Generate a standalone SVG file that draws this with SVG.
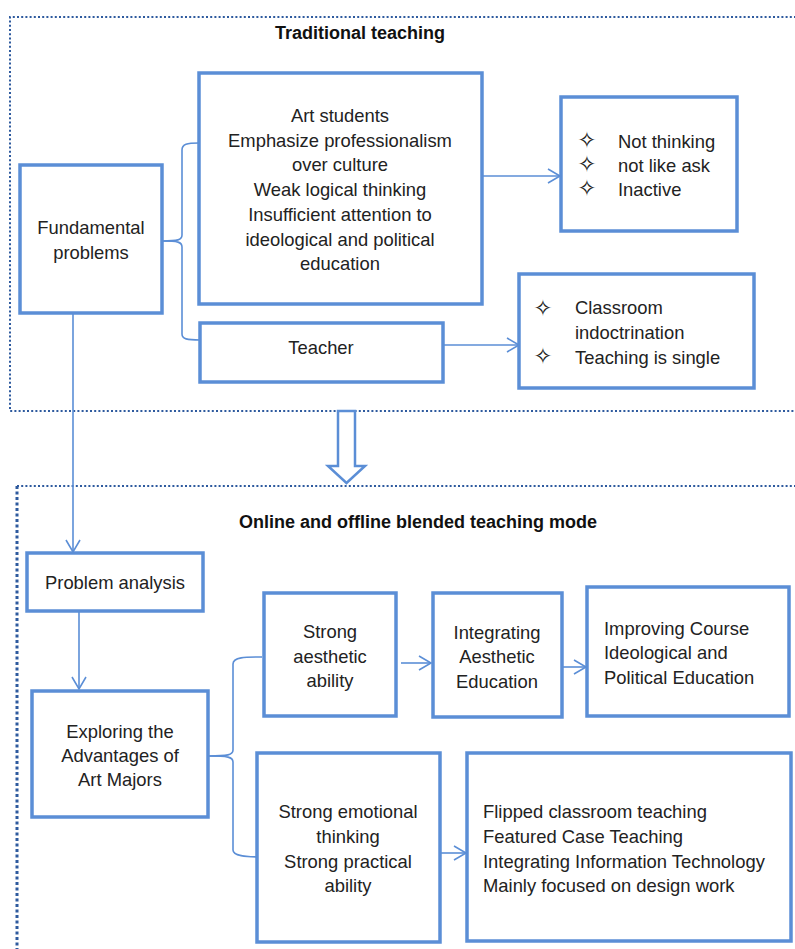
<svg xmlns="http://www.w3.org/2000/svg" width="795" height="949" viewBox="0 0 795 949">
<defs>
<style>
.box{fill:#fff;stroke:#5B8ED6;stroke-width:3.5}
.con{fill:none;stroke:#5B8ED6;stroke-width:1.6}
.frame{fill:none;stroke:#2E5A9E;stroke-width:2;stroke-dasharray:2 2.2}
.frame2{fill:none;stroke:#2E5A9E;stroke-width:3;stroke-dasharray:3 2.5}
text{font-family:"Liberation Sans",Arial,sans-serif;font-size:18.4px;fill:#222}
.c{text-anchor:middle}
.t{font-weight:bold;font-size:18px;fill:#111}
.b{font-family:"DejaVu Sans",sans-serif;font-size:23px;text-anchor:middle}
</style>
<marker id="arr" markerUnits="userSpaceOnUse" markerWidth="16" markerHeight="18" refX="13" refY="8" orient="auto">
<path d="M1,1 L13,8 L1,15" fill="none" stroke="#5B8ED6" stroke-width="1.6"/>
</marker>
</defs>
<rect width="795" height="949" fill="#fff"/>

<g id="frames">
<path class="frame" d="M796,17 L10,17 L10,411 L796,411"/>
<path class="frame" d="M796,486 L17,486"/>
<path class="frame2" d="M17,486 L17,949"/>
</g>

<g id="titles">
<text class="t c" x="360" y="39">Traditional teaching</text>
<text class="t c" x="418" y="528">Online and offline blended teaching mode</text>
</g>

<g id="connectors">
<path class="con" d="M199,143 C187,143 182,144 182,150 L182,235 C182,240 178,241 162,241"/>
<path class="con" d="M162,241 C178,241 182,242 182,247 L182,334 C182,339 187,340 200,340"/>
<line class="con" x1="482" y1="176" x2="560" y2="176" marker-end="url(#arr)"/>
<line class="con" x1="443" y1="345" x2="519" y2="345" marker-end="url(#arr)"/>
<line class="con" x1="73" y1="313" x2="73" y2="552" marker-end="url(#arr)"/>
<line class="con" x1="79" y1="611" x2="79" y2="689" marker-end="url(#arr)"/>
<path class="con" d="M262,657 C245,657 233,657 233,664 L233,750 C233,755 228,756 208,756"/>
<path class="con" d="M208,756 C228,756 233,757 233,762 L233,850 C233,856 245,857 262,857"/>
<line class="con" x1="401" y1="663" x2="431" y2="663" marker-end="url(#arr)"/>
<line class="con" x1="557" y1="667" x2="586" y2="667" marker-end="url(#arr)"/>
<line class="con" x1="438" y1="853" x2="466" y2="853" marker-end="url(#arr)"/>
<path d="M338,411 L355,411 L355,466 L365,466 L346.5,483 L328,466 L338,466 Z" fill="#fff" stroke="#5B8ED6" stroke-width="2.5" stroke-linejoin="miter"/>
</g>

<g id="fundamental">
<rect class="box" x="20" y="165" width="142" height="148"/>
<text class="c" x="91" y="234">Fundamental</text>
<text class="c" x="91" y="259">problems</text>
</g>

<g id="students">
<rect class="box" x="199" y="73" width="283" height="231"/>
<text class="c" x="340" y="122">Art students</text>
<text class="c" x="340" y="147">Emphasize professionalism</text>
<text class="c" x="340" y="171">over culture</text>
<text class="c" x="340" y="196">Weak logical thinking</text>
<text class="c" x="340" y="221">Insufficient attention to</text>
<text class="c" x="340" y="246">ideological and political</text>
<text class="c" x="340" y="270">education</text>
</g>

<g id="teacher">
<rect class="box" x="200" y="323" width="243" height="59"/>
<text class="c" x="321" y="354">Teacher</text>
</g>

<g id="notthinking">
<rect class="box" x="561" y="97" width="176" height="134"/>
<text class="b"><tspan x="587" y="148">✧</tspan><tspan x="587" y="172">✧</tspan><tspan x="587" y="196">✧</tspan></text>
<text x="618" y="148">Not thinking</text>
<text x="618" y="172">not like ask</text>
<text x="618" y="196">Inactive</text>
</g>

<g id="classroom">
<rect class="box" x="519" y="274" width="235" height="114"/>
<text class="b"><tspan x="543" y="316">✧</tspan><tspan x="543" y="364">✧</tspan></text>
<text x="575" y="314">Classroom</text>
<text x="575" y="339">indoctrination</text>
<text x="575" y="364">Teaching is single</text>
</g>

<g id="problemanalysis">
<rect class="box" x="27" y="553" width="176" height="58"/>
<text class="c" x="115" y="589">Problem analysis</text>
</g>

<g id="exploring">
<rect class="box" x="32" y="691" width="176" height="126"/>
<text class="c" x="120" y="738">Exploring the</text>
<text class="c" x="120" y="762">Advantages of</text>
<text class="c" x="120" y="786">Art Majors</text>
</g>

<g id="aesthetic">
<rect class="box" x="264" y="593" width="132" height="123"/>
<text class="c" x="330" y="638">Strong</text>
<text class="c" x="330" y="663">aesthetic</text>
<text class="c" x="330" y="687">ability</text>
</g>

<g id="integrating">
<rect class="box" x="433" y="593" width="129" height="124"/>
<text class="c" x="497" y="639">Integrating</text>
<text class="c" x="497" y="663">Aesthetic</text>
<text class="c" x="497" y="688">Education</text>
</g>

<g id="improving">
<rect class="box" x="587" y="587" width="202" height="129"/>
<text x="604" y="635">Improving Course</text>
<text x="604" y="659">Ideological and</text>
<text x="604" y="684">Political Education</text>
</g>

<g id="emotional">
<rect class="box" x="257" y="753" width="183" height="189"/>
<text class="c" x="348" y="818">Strong emotional</text>
<text class="c" x="348" y="843">thinking</text>
<text class="c" x="348" y="868">Strong practical</text>
<text class="c" x="348" y="892">ability</text>
</g>

<g id="flipped">
<rect class="box" x="467" y="753" width="324" height="188"/>
<text x="483" y="818">Flipped classroom teaching</text>
<text x="483" y="843">Featured Case Teaching</text>
<text x="483" y="868">Integrating Information Technology</text>
<text x="483" y="892">Mainly focused on design work</text>
</g>
</svg>
